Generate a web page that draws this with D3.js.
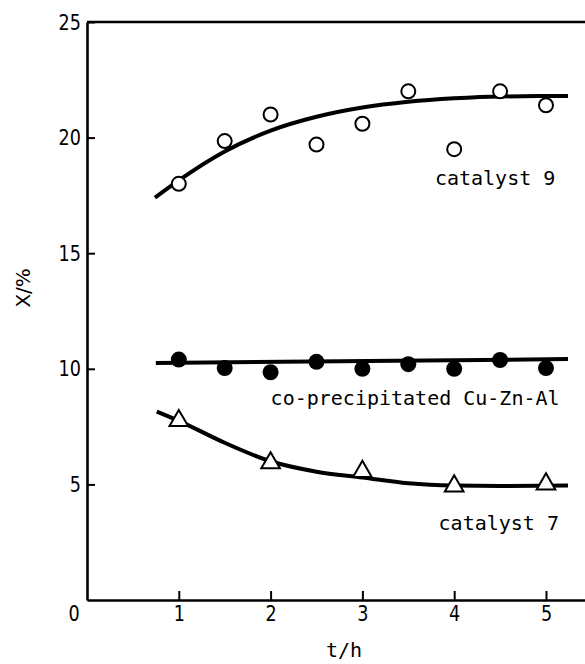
<!DOCTYPE html>
<html><head><meta charset="utf-8">
<script src="https://cdn.jsdelivr.net/npm/d3@7"></script>
<style>body{margin:0;background:#fff}svg{display:block}</style>
</head><body>
<svg id="c" width="585" height="664"></svg>
<script>
// ---- data ----
const times = [1, 1.5, 2, 2.5, 3, 3.5, 4, 4.5, 5];
const cat9 = [18.0, 19.85, 21.0, 19.7, 20.6, 22.0, 19.5, 22.0, 21.4];
const coprec = [10.4, 10.03, 9.85, 10.3, 10.0, 10.2, 10.0, 10.38, 10.03];
const cat7Times = [1, 2, 3, 4, 5];
const cat7 = [7.8, 5.97, 5.6, 4.97, 5.06];
const cat9Fit = [[0.74,17.4],[1,18.15],[1.5,19.4],[2,20.3],[2.5,20.9],[3,21.3],[3.5,21.55],[4,21.7],[4.5,21.78],[5.24,21.8]];
const coprecFit = [[0.75,10.25],[5.24,10.42]];
const cat7Fit = [[0.76,8.15],[1,7.75],[1.5,6.8],[2,6.0],[2.5,5.55],[3,5.3],[3.5,5.05],[4,4.95],[4.5,4.93],[5.24,4.95]];
const xTicks = [1, 2, 3, 4, 5];
const yTicks = [5, 10, 15, 20, 25];
const seriesLabels = [
  {text: "catalyst 9", t: 3.79, x: 17.95},
  {text: "co-precipitated Cu-Zn-Al", t: 2.0, x: 8.45},
  {text: "catalyst 7", t: 3.83, x: 3.03}
];

const svg = d3.select("#c");
const xs = d3.scaleLinear().domain([0, 5.425]).range([87, 585]);
const ys = d3.scaleLinear().domain([0, 25]).range([600, 22]);

// frame top line
svg.append("line").attr("x1", xs(0)).attr("x2", xs(5.425)).attr("y1", ys(25)).attr("y2", ys(25))
  .attr("stroke", "#000").attr("stroke-width", 2.6);

const numFont = "DejaVu Sans";
// y axis
const yAx = svg.append("g").attr("transform", `translate(${xs(0)},0)`)
  .call(d3.axisLeft(ys).tickValues(yTicks).tickFormat(d3.format("d")).tickSizeInner(-8).tickSizeOuter(0).tickPadding(6));
yAx.select(".domain").attr("stroke-width", 2.6);
yAx.selectAll(".tick line").attr("stroke-width", 2);
yAx.selectAll(".tick text").attr("font-family", numFont).attr("font-size", 22)
  .attr("x", -7.5).attr("transform", "scale(0.8,1)").attr("fill", "#000");

// x axis
const xAx = svg.append("g").attr("transform", `translate(0,${ys(0)})`)
  .call(d3.axisBottom(xs).tickValues(xTicks).tickFormat(d3.format("d")).tickSizeInner(-9).tickSizeOuter(0).tickPadding(6));
xAx.select(".domain").attr("stroke-width", 2.6);
xAx.selectAll(".tick line").attr("stroke-width", 2);
xAx.selectAll(".tick text").attr("font-family", numFont).attr("font-size", 22)
  .attr("y", 5).attr("dy", "0.71em").attr("transform", "scale(0.8,1)").attr("fill", "#000");

// origin "0"
svg.append("text").attr("x", (xs(0) - 13) / 0.8).attr("y", ys(0) + 5).attr("dy", "0.71em")
  .attr("transform", "scale(0.8,1)").attr("text-anchor", "middle")
  .attr("font-family", numFont).attr("font-size", 22).text("0");

// axis titles
svg.append("text").attr("transform", `translate(30,${ys(13.5)}) rotate(-90)`)
  .attr("text-anchor", "middle").attr("font-family", "DejaVu Sans").attr("font-size", 20).text("X/%");
svg.append("text").attr("x", xs(2.8)).attr("y", 657).attr("text-anchor", "middle")
  .attr("font-family", "DejaVu Sans Mono").attr("font-size", 20).text("t/h");

// fit curves
const line = d3.line().x(d => xs(d[0])).y(d => ys(d[1])).curve(d3.curveMonotoneX);
[cat9Fit, coprecFit, cat7Fit].forEach(f => {
  svg.append("path").attr("d", line(f)).attr("fill", "none").attr("stroke", "#000").attr("stroke-width", 4);
});

// markers
svg.append("g").selectAll("circle").data(times.map((t, i) => [t, cat9[i]])).join("circle")
  .attr("cx", d => xs(d[0])).attr("cy", d => ys(d[1])).attr("r", 7)
  .attr("fill", "#fff").attr("stroke", "#000").attr("stroke-width", 2);
svg.append("g").selectAll("circle").data(times.map((t, i) => [t, coprec[i]])).join("circle")
  .attr("cx", d => xs(d[0])).attr("cy", d => ys(d[1])).attr("r", 8)
  .attr("fill", "#000");
const tri = d3.symbol().type(d3.symbolTriangle).size(150);
svg.append("g").selectAll("path").data(cat7Times.map((t, i) => [t, cat7[i]])).join("path")
  .attr("d", tri).attr("transform", d => `translate(${xs(d[0])},${ys(d[1]) + 1})`)
  .attr("fill", "#fff").attr("stroke", "#000").attr("stroke-width", 2);

// series labels
svg.append("g").selectAll("text").data(seriesLabels).join("text")
  .attr("x", d => xs(d.t)).attr("y", d => ys(d.x))
  .attr("font-family", "DejaVu Sans Mono").attr("font-size", 20).attr("fill", "#000")
  .text(d => d.text);
</script>
</body></html>
